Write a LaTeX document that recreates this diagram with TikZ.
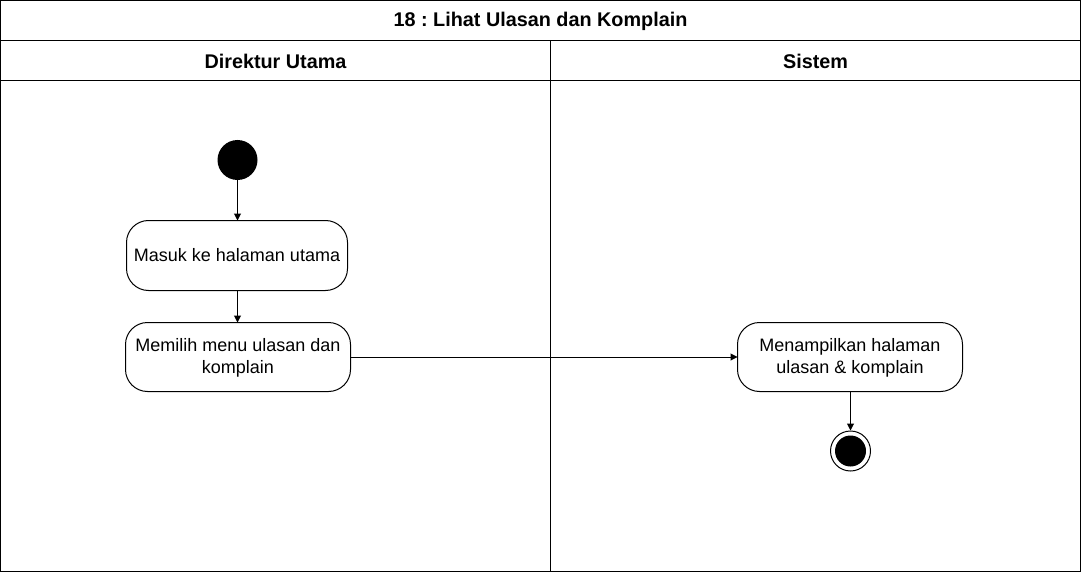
\documentclass[tikz,border=0pt]{standalone}
\usepackage{fontspec}
\setmainfont{Liberation Sans}
\usetikzlibrary{arrows.meta}
\frenchspacing
\begin{document}
\begin{tikzpicture}[x=1pt,y=-1pt,
  every node/.style={font=\fontsize{18}{22}\selectfont},
  lane/.style={draw=black,line width=1pt},
  act/.style={draw=black,line width=1pt,rounded corners=22pt,align=center},
  flow/.style={draw=black,line width=1pt,-{Triangle[length=7pt,width=7pt]}},
  hdr/.style={font=\fontsize{19.8}{23}\selectfont\bfseries}]
\useasboundingbox (0,0) rectangle (1081,572);
% frame
\draw[lane] (0.5,0.5) rectangle (1080.5,571.5);
\draw[lane] (0.5,40.5) -- (1080.5,40.5);
\draw[lane] (0.5,80.5) -- (1080.5,80.5);
\draw[lane] (550.5,40.5) -- (550.5,571.5);
\node[hdr] (title) at (540.5,21) {18 : Lihat Ulasan dan Komplain};
\node[hdr] (l1) at (275.5,61) {Direktur Utama};
\node[hdr] (l2) at (815.5,61) {Sistem};
% start
\node[circle,fill=black,minimum size=40pt,inner sep=0pt] (start) at (237.5,160) {};
% activities
\draw[act] (126.5,220.5) rectangle (347.5,290.5);
\node (a1) at (237,255.5) [minimum width=221pt,minimum height=70pt] {Masuk ke halaman utama};
\draw[act] (125.5,322.5) rectangle (350.5,391.5);
\node[align=center,minimum width=225pt,minimum height=69pt] (a2) at (238,357.5) {Memilih menu ulasan dan\\komplain};
\draw[act] (737.5,322.5) rectangle (962.5,391.5);
\node[align=center,minimum width=225pt,minimum height=69pt] (a3) at (850,357.5) {Menampilkan halaman\\ulasan \& komplain};
% end
\node[circle,draw=black,line width=1pt,minimum size=40pt,inner sep=0pt] (end) at (850.5,451) {};
\node[circle,fill=black,minimum size=31pt,inner sep=0pt] (endin) at (850.5,451) {};
% flows
\draw[flow] (start.south) -- (237.5,220.5);
\draw[flow] (237.5,290.5) -- (237.5,322.5);
\draw[flow] (350.5,357) -- (737.5,357);
\draw[flow] (850.5,391.5) -- (end.north);
\end{tikzpicture}
\end{document}
